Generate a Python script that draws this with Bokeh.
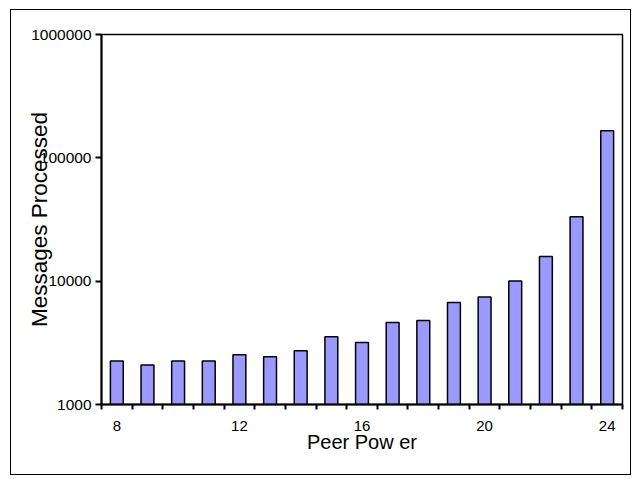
from bokeh.plotting import figure
from bokeh.models import FixedTicker, Range1d
from bokeh.embed import file_html
from bokeh.resources import INLINE

# Data
peer_power = list(range(8, 25))
messages = [2250, 2090, 2250, 2250, 2530, 2440, 2730, 3550, 3180, 4620,
            4790, 6710, 7450, 10040, 15850, 33300, 165900]
x_tick_values = [8, 12, 16, 20, 24]
y_tick_values = [1000, 10000, 100000, 1000000]
y_tick_labels = ["1000", "10000", "100000", "1000000"]
x_title = "Peer Pow er"
y_title = "Messages Processed"

FONT = "Liberation Sans"

p = figure(width=621, height=466,
           x_range=Range1d(peer_power[0] - 0.5, peer_power[-1] + 0.5),
           y_range=Range1d(y_tick_values[0], y_tick_values[-1]),
           y_axis_type="log",
           output_backend="svg", toolbar_location=None,
           min_border_left=90, min_border_right=10,
           min_border_top=24, min_border_bottom=72,
           x_axis_label=x_title, y_axis_label=y_title)

p.styles = {"border": "1.5px solid black", "margin-left": "10px", "margin-top": "9px"}

p.vbar(x=peer_power, top=messages, bottom=y_tick_values[0], width=0.42,
       fill_color="#9999FF", line_color="black", line_width=1.5)

p.xgrid.visible = False
p.ygrid.visible = False
p.outline_line_color = "black"
p.outline_line_width = 1.5
p.background_fill_color = "white"
p.border_fill_color = "white"

# X axis
xa = p.xaxis[0]
xa.ticker = FixedTicker(ticks=x_tick_values,
                        minor_ticks=[v - 0.5 for v in peer_power] + [peer_power[-1] + 0.5])
xa.major_tick_in = 0
xa.major_tick_out = 0
xa.minor_tick_in = 0
xa.minor_tick_out = 5
xa.minor_tick_line_color = "black"
xa.minor_tick_line_width = 2
xa.axis_line_width = 2
xa.axis_line_color = "black"
xa.major_label_standoff = 11
xa.major_label_text_font = FONT
xa.major_label_text_font_size = "15px"
xa.major_label_text_color = "black"
xa.axis_label_text_font = FONT
xa.axis_label_text_font_size = "20px"
xa.axis_label_text_font_style = "normal"
xa.axis_label_text_color = "black"
xa.axis_label_standoff = -3

# Y axis
ya = p.yaxis[0]
ya.ticker = FixedTicker(ticks=y_tick_values, minor_ticks=[])
ya.major_label_overrides = {v: s for v, s in zip(y_tick_values, y_tick_labels)}
ya.major_tick_in = 0
ya.major_tick_out = 6
ya.major_tick_line_width = 2
ya.major_tick_line_color = "black"
ya.minor_tick_line_color = None
ya.axis_line_width = 2
ya.axis_line_color = "black"
ya.major_label_standoff = 4
ya.major_label_text_font = FONT
ya.major_label_text_font_size = "15.5px"
ya.major_label_text_color = "black"
ya.axis_label_text_font = FONT
ya.axis_label_text_font_size = "22.5px"
ya.axis_label_text_font_style = "normal"
ya.axis_label_text_color = "black"
ya.axis_label_standoff = -24

open("out.html", "w").write(file_html(p, INLINE))
